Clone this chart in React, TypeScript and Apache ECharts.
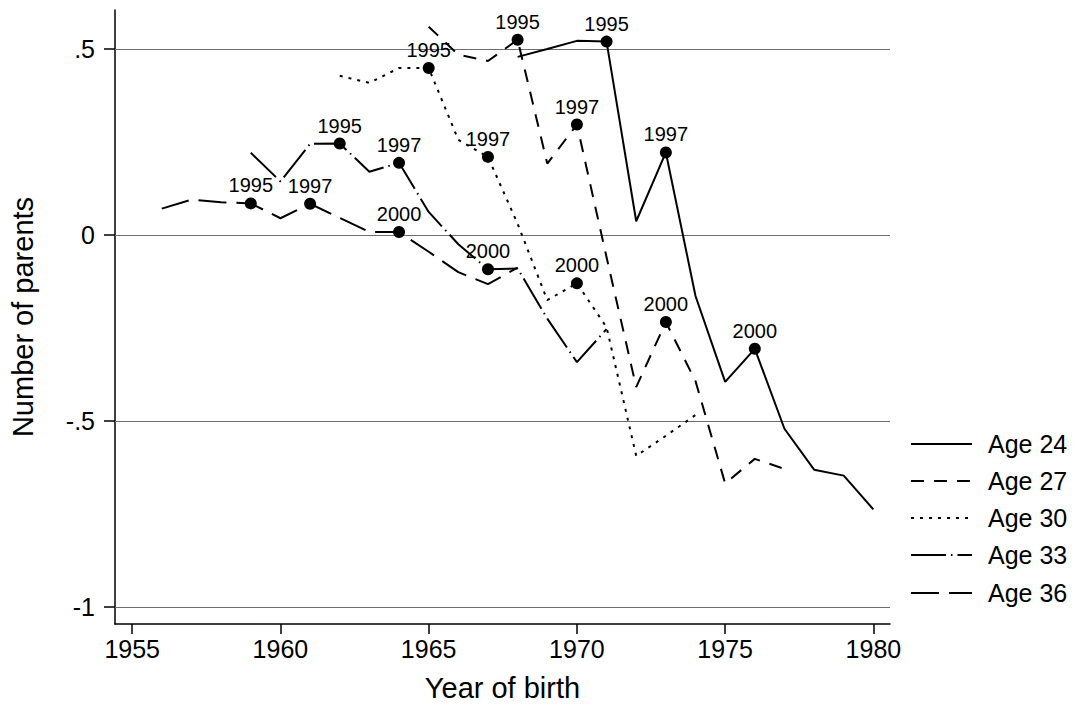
import React, { useEffect, useRef } from "react";
import * as echarts from "echarts";

const FONT = "Liberation Sans, Arial, Helvetica, sans-serif";

const seriesNames = ["Age 24", "Age 27", "Age 30", "Age 33", "Age 36"];

const years24 = [1968, 1969, 1970, 1971, 1972, 1973, 1974, 1975, 1976, 1977, 1978, 1979, 1980];
const values24 = [0.479, 0.5, 0.522, 0.52, 0.037, 0.222, -0.164, -0.395, -0.306, -0.521, -0.631, -0.647, -0.738];

const years27 = [1965, 1966, 1967, 1968, 1969, 1970, 1971, 1972, 1973, 1974, 1975, 1976, 1977];
const values27 = [0.56, 0.485, 0.468, 0.525, 0.192, 0.297, -0.06, -0.409, -0.234, -0.393, -0.668, -0.602, -0.629];

const years30 = [1962, 1963, 1964, 1965, 1966, 1967, 1968, 1969, 1970, 1971, 1972, 1973, 1974];
const values30 = [0.428, 0.409, 0.449, 0.449, 0.256, 0.21, 0.03, -0.175, -0.13, -0.248, -0.594, -0.54, -0.484];

const years33 = [1959, 1960, 1961, 1962, 1963, 1964, 1965, 1966, 1967, 1968, 1969, 1970, 1971];
const values33 = [0.221, 0.144, 0.245, 0.246, 0.17, 0.194, 0.062, -0.025, -0.092, -0.09, -0.225, -0.342, -0.253];

const years36 = [1956, 1957, 1958, 1959, 1960, 1961, 1962, 1963, 1964, 1965, 1966, 1967, 1968];
const values36 = [0.071, 0.095, 0.088, 0.085, 0.045, 0.084, 0.046, 0.008, 0.008, -0.045, -0.1, -0.132, -0.088];

const markerYears24 = [1971, 1973, 1976];
const markerYears27 = [1968, 1970, 1973];
const markerYears30 = [1965, 1967, 1970];
const markerYears33 = [1962, 1964, 1967];
const markerYears36 = [1959, 1961, 1964];
const markerLabels = ["1995", "1997", "2000"];

const xTickValues = [1955, 1960, 1965, 1970, 1975, 1980];
const yTickValues = [-1, -0.5, 0, 0.5];

const lineTypes: any[] = ["solid", [13, 10], [3, 6], [35, 5, 1.5, 5], [28, 10]];
const legendDash: any[] = [null, [13, 10], [3, 6], [35, 5, 1.5, 5], [28, 10]];
const legendRowY = [444, 481, 518, 555, 593];

const allYears = [years24, years27, years30, years33, years36];
const allValues = [values24, values27, values30, values33, values36];
const allMarkers = [markerYears24, markerYears27, markerYears30, markerYears33, markerYears36];

function fmtY(v: number): string {
  if (v === 0) return "0";
  const s = String(Math.abs(v)).replace(/^0/, "");
  return (v < 0 ? "-" : "") + s;
}

export default function App() {
  const ref = useRef<HTMLDivElement>(null);
  useEffect(() => {
    if (!ref.current) return;
    const chart = echarts.init(ref.current, null, { renderer: "svg" });

    const lineSeries = seriesNames.map((name, i) => ({
      name,
      type: "line",
      data: allYears[i].map((y, j) => [y, allValues[i][j]]),
      symbol: "none",
      showSymbol: false,
      z: 3,
      lineStyle: { color: "#000", width: 2, type: lineTypes[i] },
      itemStyle: { color: "#000" },
    }));

    const markerData: any[] = [];
    allMarkers.forEach((ys, i) => {
      ys.forEach((y, k) => {
        const idx = allYears[i].indexOf(y);
        markerData.push([y, allValues[i][idx], markerLabels[k]]);
      });
    });

    const legendGraphics: any[] = [];
    seriesNames.forEach((name, i) => {
      const y = legendRowY[i];
      const style: any = { stroke: "#000", lineWidth: 2 };
      if (legendDash[i]) style.lineDash = legendDash[i];
      legendGraphics.push({
        type: "line",
        shape: { x1: 911, y1: y, x2: 972, y2: y },
        style,
        silent: true,
      });
      legendGraphics.push({
        type: "text",
        x: 988,
        y,
        silent: true,
        style: { text: name, fill: "#000", font: `25px ${FONT}`, verticalAlign: "middle", align: "left" },
      });
    });

    const option: any = {
      animation: false,
      backgroundColor: "#fff",
      textStyle: { fontFamily: FONT },
      grid: { left: 111, right: 190, top: 10, bottom: 81, containLabel: false },
      graphic: legendGraphics,
      xAxis: {
        type: "value",
        min: 1954.42,
        max: 1980.56,
        name: "Year of birth",
        nameLocation: "middle",
        nameGap: 49,
        nameTextStyle: { fontFamily: FONT, fontSize: 29, color: "#000" },
        axisLine: { show: true, onZero: false, lineStyle: { color: "#000", width: 1.5 } },
        axisTick: { show: true, length: 10, customValues: xTickValues, lineStyle: { color: "#000", width: 1.5 } },
        axisLabel: {
          customValues: xTickValues,
          fontFamily: FONT,
          fontSize: 25,
          color: "#000",
          margin: 12,
          formatter: (v: number) => String(v),
        },
        splitLine: { show: false },
      },
      yAxis: {
        type: "value",
        min: -1.046,
        max: 0.605,
        name: "Number of parents",
        nameLocation: "middle",
        nameGap: 78,
        nameTextStyle: { fontFamily: FONT, fontSize: 29, color: "#000" },
        axisLine: { show: true, onZero: false, lineStyle: { color: "#000", width: 1.5 } },
        axisTick: { show: true, length: 11, customValues: yTickValues, lineStyle: { color: "#000", width: 1.5 } },
        axisLabel: {
          customValues: yTickValues,
          fontFamily: FONT,
          fontSize: 25,
          color: "#000",
          margin: 20,
          formatter: (v: number) => fmtY(v),
        },
        splitLine: { show: false },
      },
      series: [
        ...lineSeries,
        {
          name: "markers",
          type: "scatter",
          data: markerData,
          symbol: "circle",
          symbolSize: 12,
          z: 4,
          itemStyle: { color: "#000", opacity: 1 },
          emphasis: { disabled: true },
          label: {
            show: true,
            position: "top",
            distance: 2,
            fontFamily: FONT,
            fontSize: 20,
            color: "#000",
            opacity: 1,
            formatter: (p: any) => p.value[2],
          },
          markLine: {
            silent: true,
            z: 1,
            symbol: "none",
            label: { show: false },
            lineStyle: { color: "#6e6e6e", width: 1.2, type: "solid", opacity: 1 },
            data: yTickValues.map((v) => ({ yAxis: v })),
          },
        },
      ],
    };
    chart.setOption(option);
    return () => chart.dispose();
  }, []);
  return <div ref={ref} style={{ position: "fixed", left: 0, top: 0, width: 1080, height: 707 }} />;
}
